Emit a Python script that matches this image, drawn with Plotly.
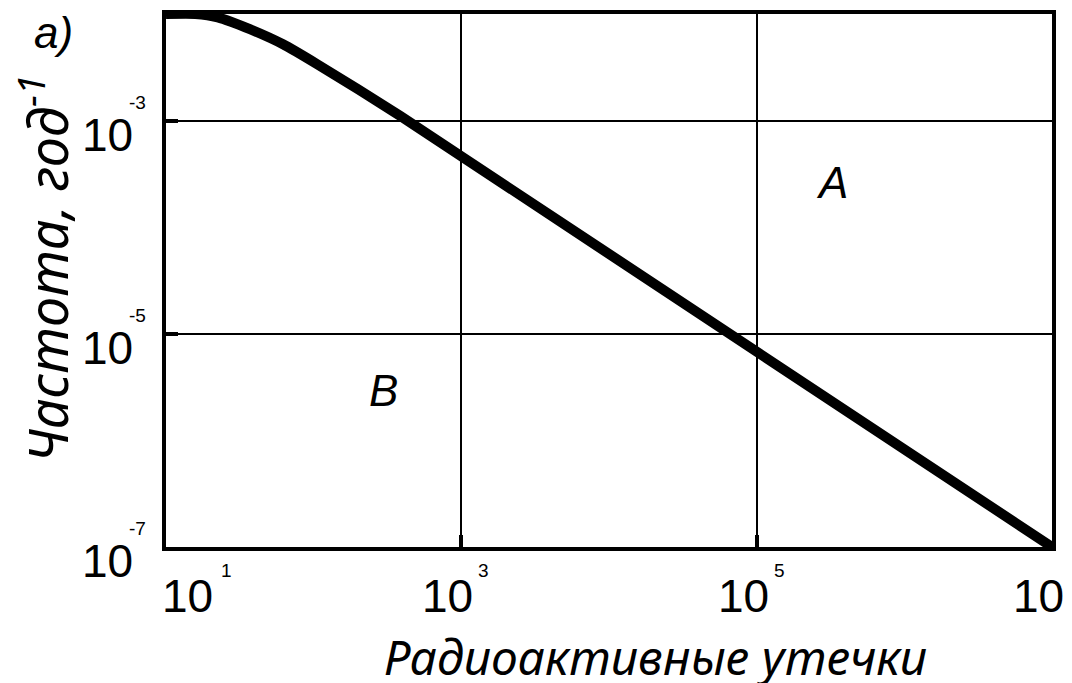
import plotly.graph_objects as go

# curve
leak = [10, 15.8, 22.4, 37, 62, 105, 389, 1e7]
freq = [1e-2, 1e-2, 9.3e-3, 7.2e-3, 5.2e-3, 3.4e-3, 1.1e-3, 1e-7]

x_label_pos = [1, 3, 5, 7]          # log10 of tick
x_label_exp = ['1', '3', '5', '7']
y_label_pos = [-3, -5, -7]
y_label_exp = ['-3', '-5', '-7']
x_grid = [1e3, 1e5]
y_grid = [1e-3, 1e-5]

FONT = "Liberation Sans, Arial, sans-serif"
TFONT = "Noto Sans, Open Sans, sans-serif"

fig = go.Figure()
fig.add_trace(go.Scatter(x=leak, y=freq, mode='lines',
                         line=dict(color='black', width=10, shape='spline', smoothing=0.5),
                         showlegend=False, hoverinfo='skip'))

axis_common = dict(type='log', showline=True, mirror=True, linewidth=4, linecolor='black',
                   showgrid=True, gridcolor='black', gridwidth=2, zeroline=False,
                   ticks='inside', ticklen=12, tickwidth=4, tickcolor='black',
                   showticklabels=False)
fig.update_xaxes(range=[1, 7], tickvals=x_grid, **axis_common)
fig.update_yaxes(range=[-7, -2.0], tickvals=y_grid, **axis_common)

anns = []
big = dict(family=FONT, size=46, color='black')
small = dict(family=FONT, size=19, color='black')
for pos, e in zip(x_label_pos, x_label_exp):
    if pos == 1:
        anns.append(dict(x=pos, xref='x', y=0, yref='paper', text='10', showarrow=False,
                         xanchor='left', yanchor='top', xshift=-6, yshift=-21, font=big))
        anns.append(dict(x=pos, xref='x', y=0, yref='paper', text=e, showarrow=False,
                         xanchor='left', yanchor='top', xshift=53, yshift=-11, font=small))
    else:
        anns.append(dict(x=pos, xref='x', y=0, yref='paper', text='10', showarrow=False,
                         xanchor='right', yanchor='top', xshift=14, yshift=-21, font=big))
        anns.append(dict(x=pos, xref='x', y=0, yref='paper', text=e, showarrow=False,
                         xanchor='left', yanchor='top', xshift=15, yshift=-11, font=small))
for pos, e in zip(y_label_pos, y_label_exp):
    anns.append(dict(x=0, xref='paper', y=pos, yref='y', text='10', showarrow=False,
                     xanchor='right', yanchor='top', xshift=-31, yshift=14, font=big))
    anns.append(dict(x=0, xref='paper', y=pos, yref='y', text=e, showarrow=False,
                     xanchor='right', yanchor='top', xshift=-18, yshift=31, font=small))

anns.append(dict(x=0.552, xref='paper', y=0, yref='paper', text='<i>Радиоактивные утечки</i>',
                 showarrow=False, xanchor='center', yanchor='top', yshift=-75,
                 font=dict(family=TFONT, size=48, color='black')))
anns.append(dict(x=-0.1366, xref='paper', y=0.522, yref='paper',
                 text='<i>Частота, год<sup>-1</sup></i>', textangle=-90,
                 showarrow=False, xanchor='center', yanchor='middle',
                 font=dict(family=TFONT, size=54, color='black')))
anns.append(dict(x=-0.1275, xref='paper', y=0.966, yref='paper', text='<i>a)</i>',
                 showarrow=False, xanchor='center', yanchor='middle',
                 font=dict(family=FONT, size=44, color='black')))
anns.append(dict(x=5.507, xref='x', y=-3.577, yref='y', text='<i>A</i>',
                 showarrow=False, xanchor='center', yanchor='middle',
                 font=dict(family=FONT, size=44, color='black')))
anns.append(dict(x=2.473, xref='x', y=-5.53, yref='y', text='<i>B</i>',
                 showarrow=False, xanchor='center', yanchor='middle',
                 font=dict(family=FONT, size=44, color='black')))

# page body has an 8px margin, so the figure is 8px smaller than the window
fig.update_layout(width=1064, height=675, margin=dict(l=158, r=20, t=2, b=136),
                  paper_bgcolor='white', plot_bgcolor='white', annotations=anns)

fig.write_html("out.html")
